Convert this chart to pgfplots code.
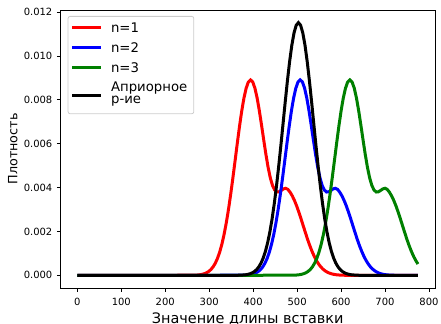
\documentclass[border=0pt]{standalone}
\usepackage{fontspec}
\setmainfont{DejaVu Sans}
\usepackage{pgfplots}
\pgfplotsset{compat=1.18}
\definecolor{mplgreen}{rgb}{0,0.5,0}
\newcommand{\lstrut}{\rule[-4.4bp]{0pt}{20bp}}
\begin{document}
\begin{tikzpicture}
\path[use as bounding box] (-60.3bp,-36bp) rectangle (380.7bp,288bp);
\begin{axis}[
  at={(0,0)}, anchor=south west,
  scale only axis, width=374.7bp, height=278bp,
  xmin=-38.75, xmax=813.75, ymin=-0.000576, ymax=0.012096,
  xtick={0,100,200,300,400,500,600,700,800},
  ytick={0,0.002,0.004,0.006,0.008,0.010,0.012},
  scaled y ticks=false,
  yticklabel style={xshift=-1bp, /pgf/number format/fixed, /pgf/number format/fixed zerofill, /pgf/number format/precision=3},
  /pgf/number format/assume math mode=true,
  tick align=outside, major tick length=3.5bp,
  tick style={line width=0.8bp, black},
  xtick pos=left, ytick pos=left,
  axis line style={line width=0.8bp},
  ticklabel style={font=\fontsize{10}{12}\selectfont},
  xticklabel style={yshift=-3.5bp},
  xlabel={Значение длины вставки},
  ylabel={Плотность},
  xlabel style={font=\fontsize{14.5}{16}\selectfont, at={(axis description cs:0.5,-0.1277)}, anchor=base},
  ylabel style={font=\fontsize{12.8}{15}\selectfont, at={(axis description cs:-0.1148,0.5)}, anchor=base},
  legend cell align=left,
  legend style={at={(axis description cs:0,1)}, anchor=north west, xshift=7.4bp, yshift=-6bp,
    draw=black!20, rounded corners=2bp, fill=white, line width=0.8bp,
    font=\fontsize{13.3}{15}\selectfont, inner xsep=4bp, inner ysep=0.7bp,
    nodes={inner xsep=2.5bp, inner ysep=0bp, text depth=, text height=}, row sep=0bp, column sep=7.5bp},
  legend image code/.code={\draw[#1, line cap=rect] (0bp,0bp) -- (26bp,0bp);},
]
\addplot[red, line width=3bp] coordinates {
(0,0) (264,0.000006) (269,0.000010) (274,0.000018) (279,0.000029) (284,0.000048)
(289,0.000076) (294,0.000118) (299,0.000180) (304,0.000268) (309,0.000391)
(314,0.000559) (319,0.000781) (324,0.001069) (329,0.001431) (334,0.001876)
(339,0.002406) (344,0.003019) (349,0.003707) (354,0.004455) (359,0.005239)
(364,0.006031) (369,0.006793) (374,0.007486) (379,0.008075) (384,0.008524)
(389,0.008810) (394,0.008910) (399,0.008818) (404,0.008536) (409,0.008091)
(414,0.007517) (419,0.006863) (424,0.006181) (429,0.005520) (434,0.004931)
(439,0.004450) (444,0.004101) (449,0.003890) (454,0.003800) (459,0.003809)
(464,0.003871) (469,0.003941) (474,0.003969) (479,0.003920) (484,0.003793)
(489,0.003624) (494,0.003413) (499,0.003163) (504,0.002880) (509,0.002575)
(514,0.002258) (519,0.001942) (524,0.001634) (529,0.001351) (534,0.001095)
(539,0.000869) (544,0.000676) (549,0.000516) (554,0.000385) (559,0.000282)
(564,0.000202) (569,0.000142) (574,0.000098) (579,0.000066) (584,0.000044)
(589,0.000028) (594,0.000018) (604,0.000007) (614,0.000002) (775,0)
};
\addlegendentry{\lstrut n=1}
\addplot[blue, line width=3bp] coordinates {
(0,0) (377,0.000006) (382,0.000010) (387,0.000018) (392,0.000029) (397,0.000048)
(402,0.000076) (407,0.000118) (412,0.000180) (417,0.000268) (422,0.000391)
(427,0.000559) (432,0.000781) (437,0.001069) (442,0.001431) (447,0.001876)
(452,0.002406) (457,0.003019) (462,0.003707) (467,0.004455) (472,0.005239)
(477,0.006031) (482,0.006793) (487,0.007486) (492,0.008075) (497,0.008524)
(502,0.008810) (507,0.008910) (512,0.008818) (517,0.008536) (522,0.008091)
(527,0.007517) (532,0.006863) (537,0.006181) (542,0.005520) (547,0.004931)
(552,0.004450) (557,0.004101) (562,0.003890) (567,0.003800) (572,0.003809)
(577,0.003871) (582,0.003941) (587,0.003969) (592,0.003920) (597,0.003793)
(602,0.003624) (607,0.003413) (612,0.003163) (617,0.002880) (622,0.002575)
(627,0.002258) (632,0.001942) (637,0.001634) (642,0.001351) (647,0.001095)
(652,0.000869) (657,0.000676) (662,0.000516) (667,0.000385) (672,0.000282)
(677,0.000202) (682,0.000142) (687,0.000098) (692,0.000066) (697,0.000044)
(702,0.000028) (707,0.000018) (717,0.000007) (727,0.000002) (775,0)
};
\addlegendentry{\lstrut n=2}
\addplot[mplgreen, line width=3bp] coordinates {
(0,0) (490,0.000006) (495,0.000010) (500,0.000018) (505,0.000029) (510,0.000048)
(515,0.000076) (520,0.000118) (525,0.000180) (530,0.000268) (535,0.000391)
(540,0.000559) (545,0.000781) (550,0.001069) (555,0.001431) (560,0.001876)
(565,0.002406) (570,0.003019) (575,0.003707) (580,0.004455) (585,0.005239)
(590,0.006031) (595,0.006793) (600,0.007486) (605,0.008075) (610,0.008524)
(615,0.008810) (620,0.008910) (625,0.008818) (630,0.008536) (635,0.008091)
(640,0.007517) (645,0.006863) (650,0.006181) (655,0.005520) (660,0.004931)
(665,0.004450) (670,0.004101) (675,0.003890) (680,0.003800) (685,0.003809)
(690,0.003871) (695,0.003941) (700,0.003969) (705,0.003920) (710,0.003793)
(715,0.003624) (720,0.003413) (725,0.003163) (730,0.002880) (735,0.002575)
(740,0.002258) (745,0.001942) (750,0.001634) (755,0.001351) (760,0.001095)
(765,0.000869) (770,0.000676) (775,0.000516)
};
\addlegendentry{\lstrut n=3}
\addplot[black, line width=3bp] coordinates {
(0,0) (363,0.000003) (373,0.000010) (383,0.000028) (388,0.000046) (393,0.0000735)
(398,0.000115) (403,0.000177) (408,0.000266) (413,0.000391) (418,0.000563)
(423,0.000795) (428,0.001099) (433,0.001488) (438,0.001972) (443,0.002561)
(448,0.003256) (453,0.004054) (458,0.004944) (463,0.005905) (468,0.006906)
(473,0.007910) (478,0.008873) (483,0.009747) (488,0.010487) (493,0.011049)
(498,0.011400) (503,0.011520) (508,0.011400) (513,0.011049) (518,0.010487)
(523,0.009747) (528,0.008873) (533,0.007910) (538,0.006906) (543,0.005905)
(548,0.004944) (553,0.004054) (558,0.003256) (563,0.002561) (568,0.001972)
(573,0.001488) (578,0.001099) (583,0.000795) (588,0.000563) (593,0.000391)
(598,0.000266) (603,0.000177) (608,0.000115) (613,0.0000735) (618,0.000046)
(623,0.000028) (633,0.000010) (643,0.000003) (775,0)
};
\addlegendentry{{\fontsize{13.3}{12.8}\selectfont\begin{tabular}{@{}l@{}}\rule{0pt}{14bp}Априорное\\\rule[-9.2bp]{0pt}{9.2bp}р-ие\end{tabular}}}
\end{axis}
\end{tikzpicture}
\end{document}
